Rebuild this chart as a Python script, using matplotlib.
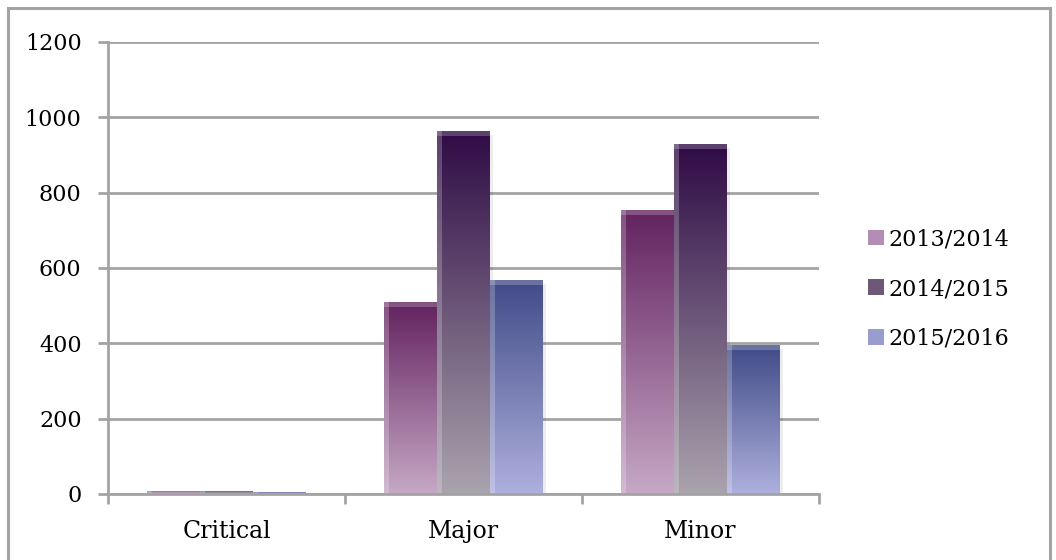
import numpy as np
import matplotlib
matplotlib.use("Agg")
import matplotlib.pyplot as plt
from matplotlib.colors import LinearSegmentedColormap
from matplotlib.patches import Rectangle, Patch

categories = ["Critical", "Major", "Minor"]
series_names = ["2013/2014", "2014/2015", "2015/2016"]
v2013 = [9, 510, 755]
v2014 = [9, 965, 928]
v2015 = [4, 568, 395]
yticks = [0, 200, 400, 600, 800, 1000, 1200]

top_colors = ["#62225f", "#2f0b45", "#414b87"]
bot_colors = ["#c6a8c6", "#aaa3ad", "#aeb0de"]
legend_colors = ["#b48cb4", "#6e5878", "#9a9cd0"]

plt.rcParams['font.family'] = ['DejaVu Serif']
GRID = "#a3a3a3"

fig = plt.figure(figsize=(10.56, 5.6), dpi=100)
ax = fig.add_axes([108/1056, 1-494/560, (819-108)/1056, (494-42)/560])

x = np.arange(len(categories))
width = 0.2236
offsets = [-width, 0, width]
px_per_unit = 452/1200.0

for i, (name, vals) in enumerate(zip(series_names, [v2013, v2014, v2015])):
    bars = ax.bar(x + offsets[i], vals, width, color='none', edgecolor='none',
                  label=name, zorder=2)
    cmap = LinearSegmentedColormap.from_list(name, [top_colors[i], bot_colors[i]])
    for b in bars:
        x0, y0 = b.get_x(), b.get_y()
        w, h = b.get_width(), b.get_height()
        # soft shadow on the right
        sh = Rectangle((x0 + w, y0), 0.014, max(h - 4 / px_per_unit, 0), facecolor='#000000',
                       alpha=0.07, edgecolor='none', zorder=1.5)
        ax.add_patch(sh)
        grad = np.linspace(0, 1, 256)[:, None]
        im = ax.imshow(grad, cmap=cmap, extent=[x0, x0 + w, y0, y0 + h],
                       aspect='auto', origin='upper', zorder=2, interpolation='bilinear')
        im.set_clip_path(b)
        # bevel left strip
        bl = Rectangle((x0, y0), w * 0.09, h, facecolor='white', alpha=0.22,
                       edgecolor='none', zorder=2.1)
        ax.add_patch(bl)
        bl.set_clip_path(b)
        # bevel top strip
        th = min(h, 5 / px_per_unit)
        bt = Rectangle((x0, y0 + h - th), w, th, facecolor='white', alpha=0.22,
                       edgecolor='none', zorder=2.1)
        ax.add_patch(bt)
        bt.set_clip_path(b)

ax.set_xlim(-0.5, 2.5)
ax.set_ylim(0, 1200)
ax.set_yticks(yticks)
ax.set_yticklabels([str(t) for t in yticks], fontsize=16)
ax.set_xticks(x)
ax.set_xticklabels(categories, fontsize=17)
ax.set_xticks([-0.5, 0.5, 1.5, 2.5], minor=True)
ax.tick_params(axis='x', which='major', length=0, pad=19)
ax.tick_params(axis='x', which='minor', length=7, width=2, color=GRID, direction='out')
ax.tick_params(axis='y', length=7, width=2, color=GRID, direction='out', pad=12)

ax.yaxis.grid(True, color=GRID, linewidth=2, zorder=0)
ax.set_axisbelow(True)
for s in ['top', 'right']:
    ax.spines[s].set_visible(False)
for s in ['left', 'bottom']:
    ax.spines[s].set_color(GRID)
    ax.spines[s].set_linewidth(2)
    ax.spines[s].set_zorder(3)

handles = [Patch(facecolor=c, edgecolor='none') for c in legend_colors]
leg = fig.legend(handles, series_names, loc='center left',
                 bbox_to_anchor=(848/1056, 1-289/560), frameon=False, fontsize=16,
                 handlelength=0.7, handleheight=0.7, handletextpad=0.2,
                 labelspacing=1.25)

frame = Rectangle((8/1056, -0.05), (1050-8)/1056, 1.05 - 8/560, transform=fig.transFigure,
                  fill=False, edgecolor=GRID, linewidth=2.2)
fig.add_artist(frame)

fig.savefig("out.png", dpi=100, facecolor='white')
